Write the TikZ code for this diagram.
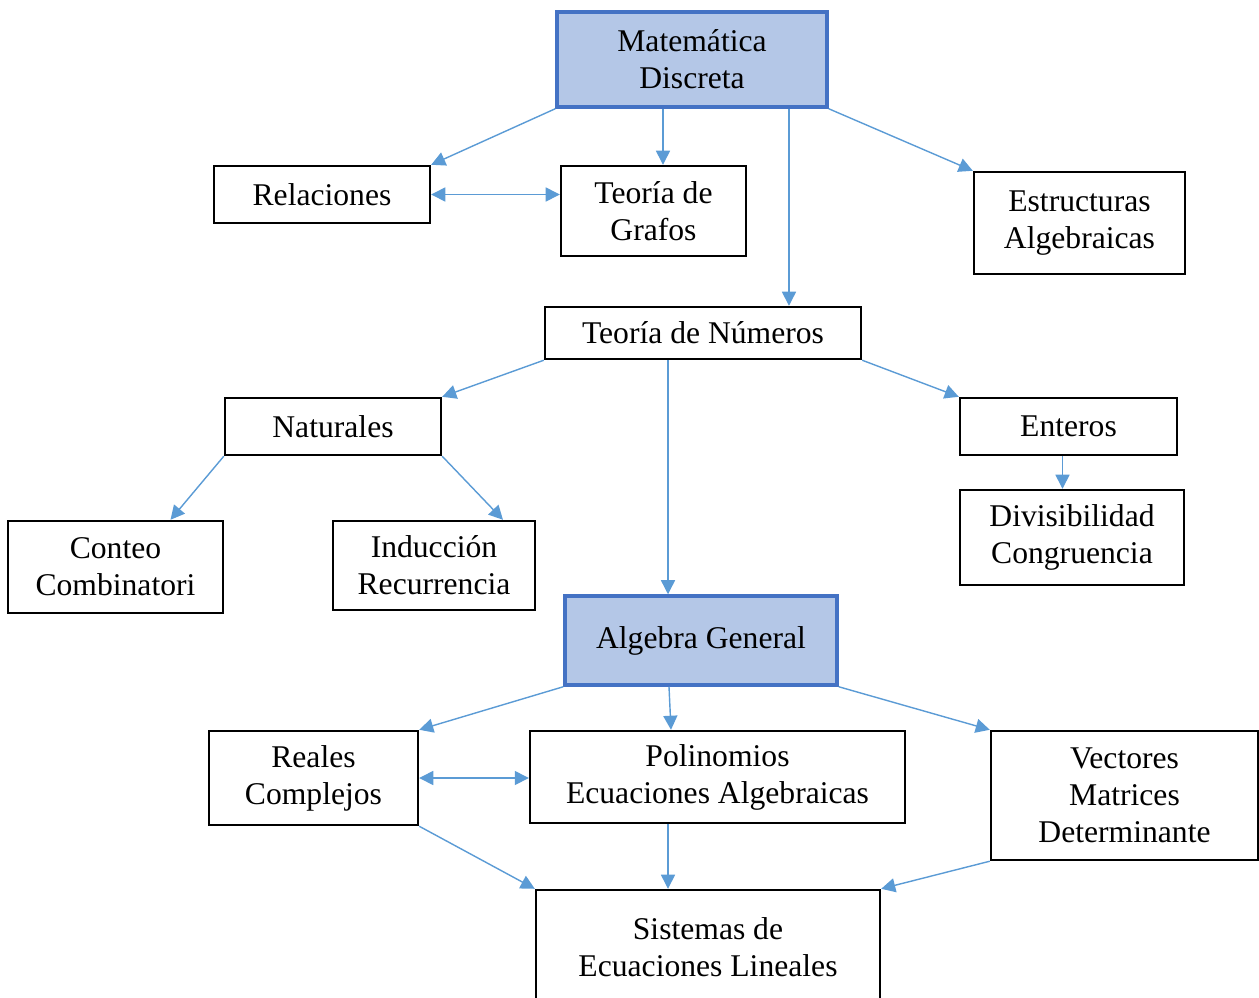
\documentclass[tikz,border=0pt]{standalone}
\usepackage{fontspec}
\setmainfont{Liberation Serif}
\usepackage{xcolor}
\definecolor{flechaazul}{RGB}{91, 155, 213}
\definecolor{rellenoazul}{RGB}{180, 199, 231}
\definecolor{bordeazul}{RGB}{68, 114, 196}
\usetikzlibrary{arrows.meta, positioning, calc}

\tikzset{
    tema/.style={draw=black, line width=1.4pt, align=center, inner sep=2pt,
        font=\fontsize{18}{21}\selectfont},
    temaprincipal/.style={tema, draw=bordeazul, fill=rellenoazul, line width=2pt},
    flecha/.style={flechaazul, line width=0.8pt, -{Triangle[length=8pt, width=8pt]}},
    dobleflecha/.style={flecha, {Triangle[length=8pt, width=8pt]}-{Triangle[length=8pt, width=8pt]}}
}

\begin{document}
\begin{tikzpicture}[x=0.02cm, y=-0.02cm]
    \useasboundingbox (0, 0) rectangle (1259, 998);

    % nivel superior
    \node[temaprincipal, minimum width=5.4cm, minimum height=1.9cm] (mat) at (692, 59.5) {Matemática\\Discreta};
    \node[tema, minimum width=4.32cm, minimum height=1.14cm] (rel) at (322, 194.5) {Relaciones};
    \node[tema, minimum width=3.7cm, minimum height=1.8cm] (graf) at (653.5, 211) {Teoría de\\Grafos};
    \node[tema, minimum width=4.22cm, minimum height=2.04cm] (estr) at (1079.5, 223) {Estructuras\\Algebraicas};

    % teoria de numeros
    \node[tema, minimum width=6.32cm, minimum height=1.04cm] (num) at (703, 333) {Teoría de Números};
    \node[tema, minimum width=4.32cm, minimum height=1.14cm] (nat) at (333, 426.5) {Naturales};
    \node[tema, minimum width=4.34cm, minimum height=1.14cm] (ent) at (1068.5, 426.5) {Enteros};
    \node[tema, minimum width=4.3cm, minimum height=1.84cm] (cont) at (115.5, 567) {Conteo\\Combinatori};
    \node[tema, minimum width=4.04cm, minimum height=1.78cm] (ind) at (434, 565.5) {Inducción\\Recurrencia};
    \node[tema, minimum width=4.48cm, minimum height=1.9cm] (div) at (1072, 537.5) {Divisibilidad\\Congruencia};

    % algebra
    \node[temaprincipal, minimum width=5.44cm, minimum height=1.78cm] (alg) at (701, 640.5) {Algebra General};
    \node[tema, minimum width=4.18cm, minimum height=1.88cm] (real) at (313.5, 778) {Reales\\Complejos};
    \node[tema, minimum width=7.5cm, minimum height=1.84cm] (pol) at (717.5, 777) {Polinomios\\Ecuaciones Algebraicas};
    \node[tema, minimum width=5.34cm, minimum height=2.58cm] (vec) at (1124.5, 795.5) {Vectores\\Matrices\\Determinante};
    \node[tema, minimum width=6.88cm, minimum height=2.3cm] (sis) at (708, 947.5) {Sistemas de\\Ecuaciones Lineales};

    % puntos de llegada
    \coordinate (grafin) at ([xshift=0.19cm]graf.north);
    \coordinate (numin) at ([xshift=1.72cm]num.north);
    \coordinate (algin) at ([xshift=-0.66cm]alg.north);
    \coordinate (contin) at ([xshift=1.1cm]cont.north);
    \coordinate (indin) at ([xshift=1.38cm]ind.north);
    \coordinate (divin) at ([xshift=-0.19cm]div.north);
    \coordinate (sisin) at ([xshift=-0.8cm]sis.north);

    \draw[flecha] (mat.south west) -- (rel.north east);
    \draw[flecha] (mat.south -| grafin) -- (grafin);
    \draw[flecha] (mat.south -| numin) -- (numin);
    \draw[flecha] (mat.south east) -- (estr.north west);
    \draw[dobleflecha] (rel.east) -- (graf.west |- rel.east);

    \draw[flecha] (num.south west) -- (nat.north east);
    \draw[flecha] (num.south -| algin) -- (algin);
    \draw[flecha] (num.south east) -- (ent.north west);
    \draw[flecha] (nat.south west) -- (contin);
    \draw[flecha] (nat.south east) -- (indin);
    \draw[flecha] (ent.south -| divin) -- (divin);

    \draw[flecha] (alg.south west) -- (real.north east);
    \draw[flecha] ([xshift=-0.64cm]alg.south) -- ([xshift=-0.93cm]pol.north);
    \draw[flecha] (alg.south east) -- (vec.north west);
    \draw[dobleflecha] (real.east) -- (pol.west |- real.east);
    \draw[flecha] (real.south east) -- (sis.north west);
    \draw[flecha] (pol.south -| sisin) -- (sisin);
    \draw[flecha] (vec.south west) -- (sis.north east);
\end{tikzpicture}
\end{document}
